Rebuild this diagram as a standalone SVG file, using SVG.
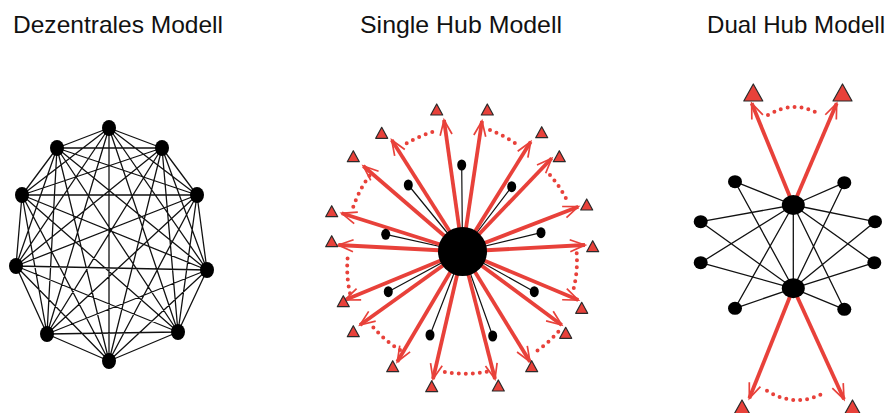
<svg xmlns="http://www.w3.org/2000/svg" width="892" height="413" viewBox="0 0 892 413">
<style>
.title{font-family:"Liberation Sans",Arial,sans-serif;font-size:24px;fill:#111}
.edge{stroke:#111;stroke-width:1.3;fill:none}
.spoke{stroke:#111;stroke-width:1.2;fill:none}
.node{fill:#000}
.arrow{stroke:#E8413A;stroke-width:3.8;fill:none;marker-end:url(#head)}
.dots{stroke:#E8413A;stroke-width:4;fill:none;stroke-linecap:round;stroke-dasharray:0 7}
.tri{fill:#E8413A;stroke:#2a2a2a;stroke-width:1.2;stroke-linejoin:round}
</style>
<defs>
<marker id="head" viewBox="-18 -8 20 16" refX="0" refY="0" markerWidth="20" markerHeight="16" markerUnits="userSpaceOnUse" orient="auto" overflow="visible">
<path d="M-15,-6 L0,0 L-15,6" fill="none" stroke="#E8413A" stroke-width="1.7"/>
</marker>
<path id="t1" d="M0,-6 L6,5 L-6,5Z"/>
<path id="t2" d="M0,-9 L9.5,8 L-9.5,8Z"/>
</defs>

<g id="titles">
<text class="title" x="13" y="33" textLength="210" lengthAdjust="spacingAndGlyphs">Dezentrales Modell</text>
<text class="title" x="360" y="33" textLength="202" lengthAdjust="spacingAndGlyphs">Single Hub Modell</text>
<text class="title" x="707" y="33" textLength="178" lengthAdjust="spacingAndGlyphs">Dual Hub Modell</text>
</g>

<!-- Dezentrales Modell -->
<g id="dez-connectors" class="edge">
<path d="M109,128L57,148M109,128L162,148M109,128L22,195M109,128L197,195M109,128L16,266M109,128L207,270M109,128L47,334M109,128L178,332M109,128L109,361
M57,148L162,148M57,148L22,195M57,148L197,195M57,148L16,266M57,148L207,270M57,148L47,334M57,148L178,332M57,148L109,361
M162,148L22,195M162,148L197,195M162,148L16,266M162,148L207,270M162,148L47,334M162,148L178,332M162,148L109,361
M22,195L197,195M22,195L16,266M22,195L207,270M22,195L47,334M22,195L178,332M22,195L109,361
M197,195L16,266M197,195L207,270M197,195L47,334M197,195L178,332M197,195L109,361
M16,266L207,270M16,266L47,334M16,266L178,332M16,266L109,361
M207,270L47,334M207,270L178,332M207,270L109,361
M47,334L178,332M47,334L109,361
M178,332L109,361"/>
</g>
<g id="dez-nodes" class="node">
<g id="d1"><ellipse cx="109" cy="128" rx="7" ry="8"/></g>
<g id="d2"><ellipse cx="57" cy="148" rx="7" ry="8"/></g>
<g id="d3"><ellipse cx="162" cy="148" rx="7" ry="8"/></g>
<g id="d4"><ellipse cx="22" cy="195" rx="7" ry="8"/></g>
<g id="d5"><ellipse cx="197" cy="195" rx="7" ry="8"/></g>
<g id="d6"><ellipse cx="16" cy="266" rx="7" ry="8"/></g>
<g id="d7"><ellipse cx="207" cy="270" rx="7" ry="8"/></g>
<g id="d8"><ellipse cx="47" cy="334" rx="7" ry="8"/></g>
<g id="d9"><ellipse cx="178" cy="332" rx="7" ry="8"/></g>
<g id="d10"><ellipse cx="109" cy="361" rx="7" ry="8"/></g>
</g>

<!-- Single Hub Modell -->
<g id="single-connectors">
<g class="spoke">
<path d="M462.5,251.5L461.7,165M462.5,251.5L408.3,185M462.5,251.5L511.7,186.7M462.5,251.5L385.7,234.3M462.5,251.5L541,232.7M462.5,251.5L388.3,291.7M462.5,251.5L534.3,291.7M462.5,251.5L430,335M462.5,251.5L492.7,336"/>
</g>
<g class="dots">
<path d="M406.7,143.3A122,122 0 0 1 436.7,130.7"/>
<path d="M490,130A121,121 0 0 1 520,146.7"/>
<path d="M550,175A116,116 0 0 1 568.3,203.3"/>
<path d="M576.7,253.3A116,116 0 0 1 573.3,290"/>
<path d="M558.3,331.7A125,125 0 0 1 533.3,353.3"/>
<path d="M486.7,371.7A123,123 0 0 1 443.3,371.7"/>
<path d="M400,350A117,117 0 0 1 370,323.3"/>
<path d="M350,293.3A117,117 0 0 1 348.3,251.7"/>
<path d="M353.3,206.7A119,119 0 0 1 370,175"/>
</g>
<g class="arrow">
<line x1="462.5" y1="251.5" x2="444" y2="120"/>
<line x1="462.5" y1="251.5" x2="482" y2="121"/>
<line x1="462.5" y1="251.5" x2="530.7" y2="141.7"/>
<line x1="462.5" y1="251.5" x2="551.7" y2="158.3"/>
<line x1="462.5" y1="251.5" x2="578.3" y2="206.7"/>
<line x1="462.5" y1="251.5" x2="585" y2="245"/>
<line x1="462.5" y1="251.5" x2="578.3" y2="300"/>
<line x1="462.5" y1="251.5" x2="561.7" y2="325"/>
<line x1="462.5" y1="251.5" x2="530" y2="361.7"/>
<line x1="462.5" y1="251.5" x2="495" y2="379"/>
<line x1="462.5" y1="251.5" x2="433" y2="379"/>
<line x1="462.5" y1="251.5" x2="397.3" y2="361.7"/>
<line x1="462.5" y1="251.5" x2="360" y2="325"/>
<line x1="462.5" y1="251.5" x2="345" y2="300"/>
<line x1="462.5" y1="251.5" x2="338.3" y2="245"/>
<line x1="462.5" y1="251.5" x2="341.7" y2="213.3"/>
<line x1="462.5" y1="251.5" x2="363.3" y2="166"/>
<line x1="462.5" y1="251.5" x2="391.7" y2="140"/>
</g>
</g>
<g id="single-nodes">
<g id="hub"><circle class="node" cx="462.5" cy="251.5" r="24.5"/></g>
<g id="s1" class="node"><ellipse cx="461.7" cy="165" rx="4.5" ry="5.5"/></g>
<g id="s2" class="node"><ellipse cx="408.3" cy="185" rx="4.5" ry="5.5"/></g>
<g id="s3" class="node"><ellipse cx="511.7" cy="186.7" rx="4.5" ry="5.5"/></g>
<g id="s4" class="node"><ellipse cx="385.7" cy="234.3" rx="4.5" ry="5.5"/></g>
<g id="s5" class="node"><ellipse cx="541" cy="232.7" rx="4.5" ry="5.5"/></g>
<g id="s6" class="node"><ellipse cx="388.3" cy="291.7" rx="4.5" ry="5.5"/></g>
<g id="s7" class="node"><ellipse cx="534.3" cy="291.7" rx="4.5" ry="5.5"/></g>
<g id="s8" class="node"><ellipse cx="430" cy="335" rx="4.5" ry="5.5"/></g>
<g id="s9" class="node"><ellipse cx="492.7" cy="336" rx="4.5" ry="5.5"/></g>
<g id="a1"><use href="#t1" class="tri" x="436.7" y="110"/></g>
<g id="a2"><use href="#t1" class="tri" x="487.3" y="110"/></g>
<g id="a3"><use href="#t1" class="tri" x="541.7" y="132.7"/></g>
<g id="a4"><use href="#t1" class="tri" x="559.3" y="156.7"/></g>
<g id="a5"><use href="#t1" class="tri" x="586.7" y="205"/></g>
<g id="a6"><use href="#t1" class="tri" x="592.7" y="246.7"/></g>
<g id="a7"><use href="#t1" class="tri" x="581.7" y="308.3"/></g>
<g id="a8"><use href="#t1" class="tri" x="565.7" y="333.3"/></g>
<g id="a9"><use href="#t1" class="tri" x="531.7" y="366.7"/></g>
<g id="a10"><use href="#t1" class="tri" x="498.3" y="386"/></g>
<g id="a11"><use href="#t1" class="tri" x="431.7" y="386.7"/></g>
<g id="a12"><use href="#t1" class="tri" x="392.7" y="366.7"/></g>
<g id="a13"><use href="#t1" class="tri" x="353.3" y="331.7"/></g>
<g id="a14"><use href="#t1" class="tri" x="343.3" y="301.7"/></g>
<g id="a15"><use href="#t1" class="tri" x="331.7" y="241.7"/></g>
<g id="a16"><use href="#t1" class="tri" x="331.7" y="211.7"/></g>
<g id="a17"><use href="#t1" class="tri" x="353.3" y="156.7"/></g>
<g id="a18"><use href="#t1" class="tri" x="381.7" y="133.3"/></g>
</g>

<!-- Dual Hub Modell -->
<g id="dual-connectors">
<g class="edge">
<path d="M793.3,205L793.3,288.3
M735,181.7L793.3,205M735,181.7L793.3,288.3
M844.3,182.7L793.3,205M844.3,182.7L793.3,288.3
M700.7,221.7L793.3,205M700.7,221.7L793.3,288.3
M875,221.7L793.3,205M875,221.7L793.3,288.3
M700.7,262.7L793.3,205M700.7,262.7L793.3,288.3
M874.3,262.7L793.3,205M874.3,262.7L793.3,288.3
M735,308.3L793.3,205M735,308.3L793.3,288.3
M844.3,309.3L793.3,205M844.3,309.3L793.3,288.3"/>
</g>
<g class="dots">
<path d="M768,115Q794,99.5 819,114"/>
<path d="M767,390.7Q796.5,409 826,391.7"/>
</g>
<g class="arrow">
<line x1="793.3" y1="205" x2="751.7" y2="103.3"/>
<line x1="793.3" y1="205" x2="836.7" y2="103.3"/>
<line x1="793.3" y1="288.3" x2="749.3" y2="398.3"/>
<line x1="793.3" y1="288.3" x2="844" y2="399.3"/>
</g>
</g>
<g id="dual-nodes">
<g id="h1"><ellipse class="node" cx="793.3" cy="205" rx="11.5" ry="10"/></g>
<g id="h2"><ellipse class="node" cx="793.3" cy="288.3" rx="11.5" ry="10"/></g>
<g id="n1" class="node"><ellipse cx="735" cy="181.7" rx="7" ry="6.5"/></g>
<g id="n2" class="node"><ellipse cx="844.3" cy="182.7" rx="7" ry="6.5"/></g>
<g id="n3" class="node"><ellipse cx="700.7" cy="221.7" rx="7" ry="6.5"/></g>
<g id="n4" class="node"><ellipse cx="875" cy="221.7" rx="7" ry="6.5"/></g>
<g id="n5" class="node"><ellipse cx="700.7" cy="262.7" rx="7" ry="6.5"/></g>
<g id="n6" class="node"><ellipse cx="874.3" cy="262.7" rx="7" ry="6.5"/></g>
<g id="n7" class="node"><ellipse cx="735" cy="308.3" rx="7" ry="6.5"/></g>
<g id="n8" class="node"><ellipse cx="844.3" cy="309.3" rx="7" ry="6.5"/></g>
<g id="b1"><use href="#t2" class="tri" x="753.3" y="93"/></g>
<g id="b2"><use href="#t2" class="tri" x="842.5" y="93"/></g>
<g id="b3"><use href="#t2" class="tri" x="742" y="409"/></g>
<g id="b4"><use href="#t2" class="tri" x="852.5" y="409"/></g>
</g>
</svg>
